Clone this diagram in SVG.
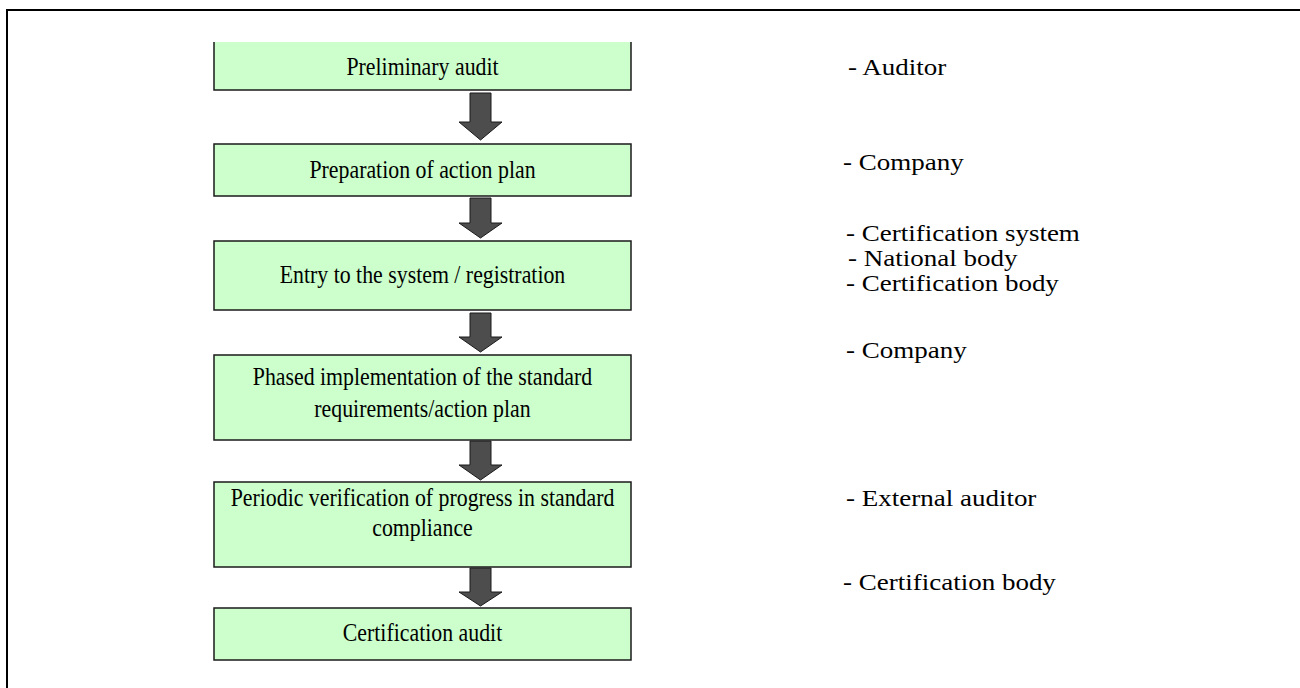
<svg xmlns="http://www.w3.org/2000/svg" width="1300" height="688" viewBox="0 0 1300 688">
<defs>
<style>
.box{fill:#ccffcc;stroke:#1a1a1a;stroke-width:1.5}
.t{font-family:"Liberation Serif","Times New Roman",serif;font-size:26px;fill:#000;text-anchor:middle}
.r{font-family:"Liberation Serif","Times New Roman",serif;font-size:22.5px;fill:#000}
.arr{fill:#4d4d4d;stroke:#1a1a1a;stroke-width:1}
.frame{fill:none;stroke:#000;stroke-width:2}
</style>
</defs>
<rect width="1300" height="688" fill="#fff"/>
<path class="frame" d="M7,688 V10 H1300"/>
<g id="n1">
<rect x="214" y="42" width="417" height="48" fill="#ccffcc"/>
<path d="M214,42 V90 H631 V42" fill="none" stroke="#1a1a1a" stroke-width="1.5"/>
<text class="t" transform="translate(422.5,75) scale(0.84,1)">Preliminary audit</text>
</g>
<g id="n2">
<rect class="box" x="214" y="144" width="417" height="52"/>
<text class="t" transform="translate(422.5,178) scale(0.84,1)">Preparation of action plan</text>
</g>
<g id="n3">
<rect class="box" x="214" y="241" width="417" height="69"/>
<text class="t" transform="translate(422.5,283) scale(0.84,1)">Entry to the system / registration</text>
</g>
<g id="n4">
<rect class="box" x="214" y="355" width="417" height="85"/>
<text class="t" transform="translate(422.5,385) scale(0.84,1)">Phased implementation of the standard</text>
<text class="t" transform="translate(422.5,417) scale(0.84,1)">requirements/action plan</text>
</g>
<g id="n5">
<rect class="box" x="214" y="482" width="417" height="85"/>
<text class="t" transform="translate(422.5,506) scale(0.84,1)">Periodic verification of progress in standard</text>
<text class="t" transform="translate(422.5,536) scale(0.84,1)">compliance</text>
</g>
<g id="n6">
<rect class="box" x="214" y="608" width="417" height="52"/>
<text class="t" transform="translate(422.5,641) scale(0.84,1)">Certification audit</text>
</g>
<g id="labels">
<text class="r" transform="translate(848,75) scale(1.2,1)">- Auditor</text>
<text class="r" transform="translate(843,170) scale(1.2,1)">- Company</text>
<text class="r" transform="translate(846,241) scale(1.2,1)">- Certification system</text>
<text class="r" transform="translate(848,266) scale(1.2,1)">- National body</text>
<text class="r" transform="translate(846,291) scale(1.2,1)">- Certification body</text>
<text class="r" transform="translate(846,358) scale(1.2,1)">- Company</text>
<text class="r" transform="translate(846,506) scale(1.2,1)">- External auditor</text>
<text class="r" transform="translate(843,590) scale(1.2,1)">- Certification body</text>
</g>
<g id="connectors">
<path class="arr" d="M470,93 H491 V122 H502 L480.5,140 L459,122 H470 Z"/>
<path class="arr" d="M470,198 H491 V223 H502 L480.5,238 L459,223 H470 Z"/>
<path class="arr" d="M470,313 H491 V337 H502 L480.5,352 L459,337 H470 Z"/>
<path class="arr" d="M470,441 H491 V465 H502 L480.5,480 L459,465 H470 Z"/>
<path class="arr" d="M470,568 H491 V592 H502 L480.5,606 L459,592 H470 Z"/>
</g>
</svg>
